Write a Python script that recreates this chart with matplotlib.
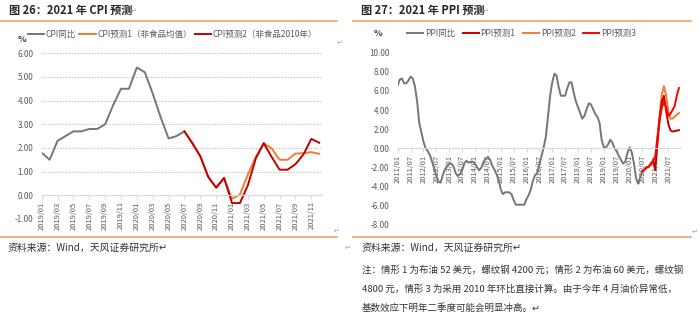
import numpy as np
import matplotlib.pyplot as plt

plt.rcParams['font.family'] = ['Noto Sans CJK SC', 'DejaVu Sans']

# CPI chart data (2019/01 - 2021/12)
cpi_months = ["%d/%02d" % (y, m) for y in (2019, 2020, 2021) for m in range(1, 13)]
cpi_actual = [1.8, 1.5, 2.3, 2.5, 2.7, 2.7, 2.8, 2.8, 3.0, 3.8, 4.5, 4.5,
              5.4, 5.2, 4.3, 3.3, 2.4, 2.5, 2.7]
# forecasts start at 2020/07
cpi_f1 = [2.7, 2.2, 1.65, 0.78, 0.32, 0.73, -0.15, 0.03, 0.87, 1.62, 2.2, 1.98,
          1.5, 1.5, 1.76, 1.78, 1.82, 1.75]
cpi_f2 = [2.7, 2.2, 1.65, 0.78, 0.32, 0.73, -0.33, -0.33, 0.42, 1.55, 2.2, 1.62,
          1.08, 1.08, 1.31, 1.72, 2.38, 2.22]

# PPI chart data (2011/01 - 2021/12)
ppi_months = ["%d/%02d" % (y, m) for y in range(2011, 2022) for m in range(1, 13)]
ppi_actual = [6.6, 7.2, 7.3, 6.8, 6.8, 7.1, 7.5, 7.3, 6.5, 5.0, 2.7, 1.7,
              0.7, 0.0, -0.3, -0.7, -1.4, -2.1, -2.9, -3.5, -3.6, -2.8, -2.2, -1.9,
              -1.6, -1.6, -1.9, -2.6, -2.9, -2.7, -2.3, -1.6, -1.3, -1.5, -1.4, -1.4,
              -1.6, -2.0, -2.3, -2.0, -1.4, -1.1, -0.9, -1.2, -1.8, -2.2, -2.7, -3.3,
              -4.3, -4.8, -4.6, -4.6, -4.6, -4.8, -5.4, -5.9, -5.9, -5.9, -5.9, -5.9,
              -5.3, -4.9, -4.3, -3.4, -2.8, -2.6, -1.7, -0.8, 0.1, 1.2, 3.3, 5.5,
              6.9, 7.8, 7.6, 6.4, 5.5, 5.5, 5.5, 6.3, 6.9, 6.9, 5.8, 4.9,
              4.3, 3.7, 3.1, 3.4, 4.1, 4.7, 4.6, 4.1, 3.6, 3.3, 2.7, 0.9,
              0.1, 0.1, 0.4, 0.9, 0.6, 0.0, -0.3, -0.8, -1.2, -1.6, -1.4, -0.5,
              0.1, -0.4, -1.5, -3.1, -3.7, -3.0, -2.4]
# forecasts start at 2020/07
ppi_f1 = [-2.4, -2.2, -2.0, -1.9, -1.6, -1.3, -2.3, 0.5, 3.0, 4.8, 5.5, 4.0,
          2.6, 1.9, 1.75, 1.8, 1.85, 1.9]
ppi_f2 = [-2.4, -2.2, -2.0, -1.9, -1.6, -1.3, -1.8, 1.0, 3.6, 5.6, 6.5, 5.6,
          4.0, 3.1, 3.1, 3.3, 3.5, 3.7]
ppi_f3 = [-2.4, -2.2, -2.0, -1.9, -1.6, -1.3, -0.8, 1.2, 3.0, 4.2, 4.9, 4.3,
          3.4, 3.6, 4.0, 4.4, 5.5, 6.3]

GRAY = '#767676'
ORANGE = '#ed7d31'
DARKRED = '#c00000'
RED = '#ff0000'
RULE = '#f7a35c'
TXT = '#595959'
W, H = 700, 322

fig = plt.figure(figsize=(7, 3.22), dpi=100)


def fx(px):
    return px / W


def fy(py):
    return 1 - py / H


def style_axis(ax, xt, labels, ylo, yhi, ystep):
    for s in ('top', 'right', 'left'):
        ax.spines[s].set_visible(False)
    ax.spines['bottom'].set_position(('data', 0))
    ax.spines['bottom'].set_color('#d9d9d9')
    ax.spines['bottom'].set_linewidth(0.8)
    ax.set_ylim(ylo, yhi)
    yt = np.arange(ylo, yhi + 0.01, ystep)
    ax.set_yticks(yt)
    ax.set_yticklabels(['%.2f' % v for v in yt], fontsize=5.8, color=TXT)
    ax.tick_params(axis='y', length=0, pad=6)
    ax.set_xticks(xt)
    ax.set_xticklabels(labels, rotation=90, fontsize=5.4, color=TXT)
    ax.tick_params(axis='x', length=3, color='#d9d9d9', pad=1.5)
    ax.patch.set_visible(False)


# ---- left: CPI ----
ax1 = fig.add_axes([fx(41.7), fy(218.9), fx(322 - 41.7), (218.9 - 53.3) / H])
x1 = np.arange(len(cpi_months))
xf = np.arange(18, 18 + len(cpi_f1))
for v in (6, 5, 4, 3, 2, 1, -1):
    ax1.axhline(v, color='#bfbfbf', lw=0.7, ls=(0, (1.5, 1.5)), zorder=0)
l1, = ax1.plot(x1[:len(cpi_actual)], cpi_actual, color=GRAY, lw=1.4, label='CPI同比')
l2, = ax1.plot(xf, cpi_f1, color=ORANGE, lw=1.4, label='CPI预测1（非食品均值）')
l3, = ax1.plot(xf, cpi_f2, color=DARKRED, lw=1.4, label='CPI预测2（非食品2010年）')
ax1.set_xlim(0, 35.35)
style_axis(ax1, x1[::2], cpi_months[::2], -1, 6, 1)
ax1.legend(handles=[l1, l2, l3], loc='center left', bbox_to_anchor=(fx(28), fy(34)),
           bbox_transform=fig.transFigure, ncol=3, frameon=False, fontsize=6.1,
           handlelength=1.9, handletextpad=0.2, columnspacing=0.4, labelcolor=TXT,
           borderaxespad=0, borderpad=0)
fig.text(fx(22), fy(40), '%', fontsize=6.5, color='#404040', va='center', ha='center',
         weight='bold')

# ---- right: PPI ----
ax2 = fig.add_axes([fx(397.7), fy(224.8), fx(680 - 397.7), (224.8 - 52.7) / H])
x2 = np.arange(len(ppi_months))
xf2 = np.arange(114, 114 + len(ppi_f1))
r1, = ax2.plot(x2[:len(ppi_actual)], ppi_actual, color=GRAY, lw=1.4, label='PPI同比')
r3, = ax2.plot(xf2, ppi_f2, color=ORANGE, lw=1.4, label='PPI预测2')
r2, = ax2.plot(xf2, ppi_f1, color=DARKRED, lw=1.4, label='PPI预测1')
r4, = ax2.plot(xf2, ppi_f3, color=RED, lw=1.4, label='PPI预测3')
ax2.set_xlim(0, 131.5)
style_axis(ax2, x2[::6], ppi_months[::6], -8, 10, 2)
ax2.legend(handles=[r1, r2, r3, r4], loc='center left', bbox_to_anchor=(fx(407), fy(33)),
           bbox_transform=fig.transFigure, ncol=4, frameon=False, fontsize=6.1,
           handlelength=1.9, handletextpad=0.2, columnspacing=0.9, labelcolor=TXT,
           borderaxespad=0, borderpad=0)
fig.text(fx(378), fy(33), '%', fontsize=6.5, color='#404040', va='center', ha='center',
         weight='bold')

# ---- titles, rules, notes ----
fig.text(fx(9), fy(10), '图 26：2021 年 CPI 预测', fontsize=8, weight='bold',
         color='#262626', va='center')
fig.text(fx(131), fy(11), '↵', fontsize=5, color='#a6a6a6', va='center')
fig.text(fx(361), fy(10), '图 27：2021 年 PPI 预测', fontsize=8, weight='bold',
         color='#262626', va='center')
fig.text(fx(483), fy(11), '↵', fontsize=5, color='#a6a6a6', va='center')

for x0, x1_ in ((0, 337), (353, 691)):
    fig.add_artist(plt.Line2D([fx(x0), fx(x1_)], [fy(21), fy(21)], color=RULE, lw=1.2))
    fig.add_artist(plt.Line2D([fx(x0), fx(x1_)], [fy(237), fy(237)], color=RULE, lw=1.2))

fig.text(fx(337), fy(43), '↵', fontsize=5, color='#a6a6a6', va='center')
fig.text(fx(334), fy(231), '↵', fontsize=5, color='#a6a6a6', va='center')
fig.text(fx(345), fy(248), '↵', fontsize=5, color='#a6a6a6', va='center')
fig.text(fx(692), fy(232), '↵', fontsize=5, color='#a6a6a6', va='center')

fig.text(fx(8), fy(248), '资料来源：Wind，天风证券研究所↵', fontsize=7.1, color='#333333',
         va='center')
fig.text(fx(362), fy(248), '资料来源：Wind，天风证券研究所↵', fontsize=7.1, color='#333333',
         va='center')
notes = ['注：情形 1 为布油 52 美元，螺纹钢 4200 元；情形 2 为布油 60 美元，螺纹钢',
         '4800 元，情形 3 为采用 2010 年环比直接计算。由于今年 4 月油价异常低，',
         '基数效应下明年二季度可能会明显冲高。↵']
for i, line in enumerate(notes):
    fig.text(fx(362), fy(270 + 19 * i), line, fontsize=6.8, color='#333333', va='center')

fig.savefig('out.png', dpi=100)
